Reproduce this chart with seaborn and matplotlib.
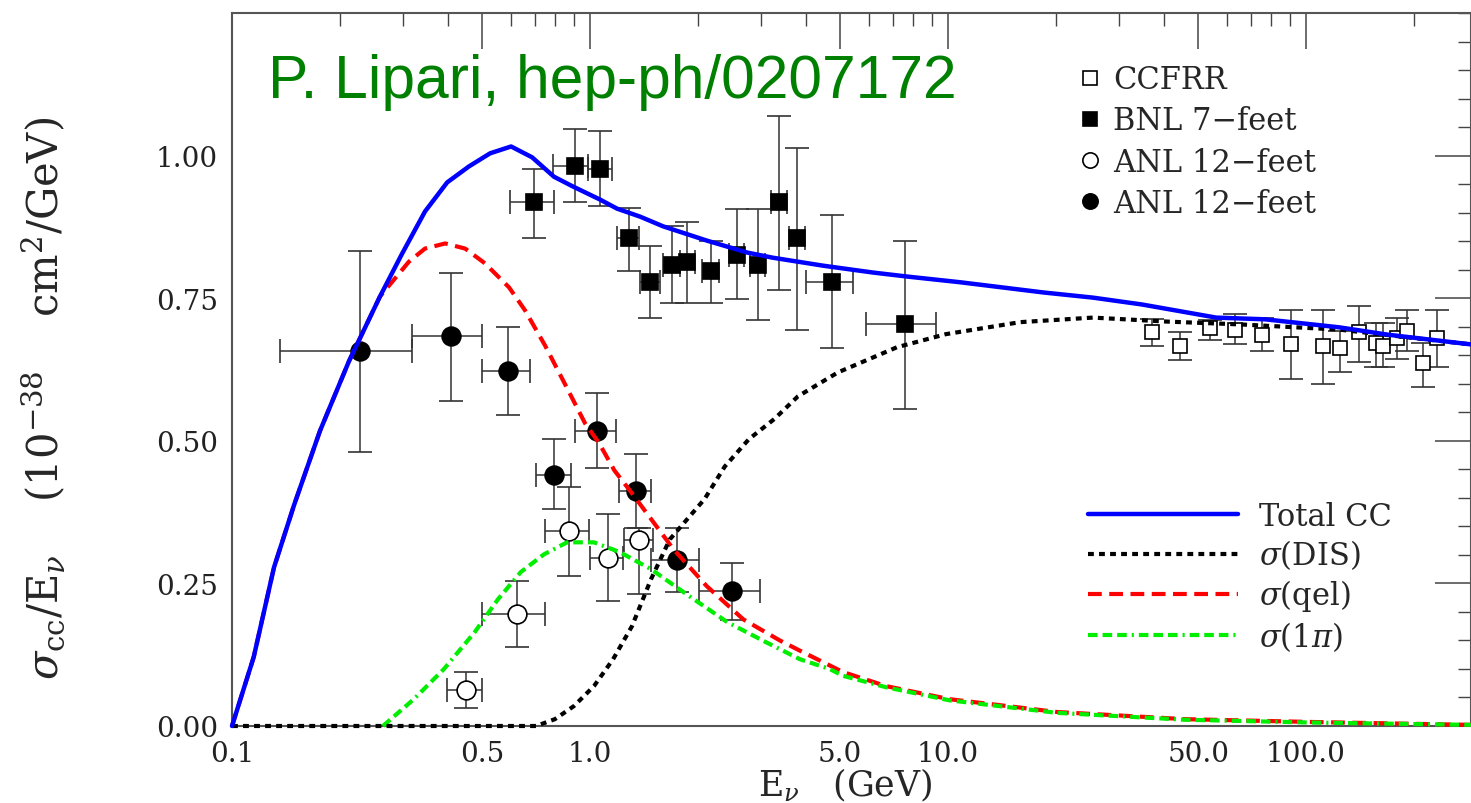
import numpy as np
import matplotlib
matplotlib.use("Agg")
import matplotlib.pyplot as plt
import matplotlib.ticker as mticker
from matplotlib.lines import Line2D
import seaborn as sns

# ---- theory curves, sigma/E in 1e-38 cm^2/GeV ----
tot_E = [0.1, 0.115, 0.131, 0.149, 0.176, 0.212, 0.259, 0.298, 0.346, 0.399, 0.459,
         0.526, 0.602, 0.689, 0.793, 0.895, 1.066, 1.19, 1.38, 1.60, 2.12, 2.75, 3.24,
         4.48, 6.17, 7.68, 10.8, 18.5, 25.4, 34.8, 56.1, 76.8, 123.6, 169.5, 289]
tot_v = [0.0, 0.121, 0.278, 0.387, 0.517, 0.639, 0.753, 0.827, 0.902, 0.953, 0.981,
         1.004, 1.016, 0.997, 0.963, 0.946, 0.923, 0.907, 0.893, 0.876, 0.851, 0.830, 0.821,
         0.807, 0.795, 0.788, 0.778, 0.760, 0.751, 0.739, 0.716, 0.713, 0.699, 0.686, 0.669]

dis_E = [0.1, 0.707, 0.798, 0.902, 1.026, 1.16, 1.31, 1.48, 1.67, 2.09, 2.38, 2.78,
         3.27, 3.81, 4.93, 7.20, 9.87, 15.9, 25.4, 40.9, 65.8, 123.6, 289]
dis_v = [0.0, 0.0, 0.012, 0.035, 0.070, 0.117, 0.175, 0.257, 0.327, 0.398, 0.455, 0.503,
         0.538, 0.578, 0.620, 0.664, 0.687, 0.708, 0.716, 0.709, 0.704, 0.695, 0.669]

qel_E = [0.1, 0.115, 0.131, 0.149, 0.176, 0.212, 0.259, 0.312, 0.346, 0.394, 0.448,
         0.509, 0.594, 0.658, 0.749, 0.852, 0.968, 1.06, 1.17, 1.31, 1.71, 2.12, 2.68,
         3.39, 3.86, 5.09, 6.71, 10.1, 20.2, 45.9, 104.6, 289]
qel_v = [0.0, 0.121, 0.278, 0.387, 0.517, 0.639, 0.753, 0.814, 0.837, 0.846, 0.837,
         0.811, 0.769, 0.729, 0.667, 0.599, 0.531, 0.496, 0.448, 0.408, 0.310, 0.245, 0.187,
         0.150, 0.132, 0.0946, 0.070, 0.047, 0.0245, 0.012, 0.007, 0.002]

pi_E = [0.264, 0.322, 0.391, 0.477, 0.553, 0.641, 0.744, 0.863, 1.026, 1.21, 1.48,
        1.89, 2.42, 3.10, 3.86, 4.67, 5.09, 6.71, 10.1, 20.2, 45.9, 104.6, 289]
pi_v = [0.0, 0.047, 0.100, 0.165, 0.222, 0.270, 0.301, 0.322, 0.322, 0.305, 0.275,
        0.228, 0.182, 0.147, 0.117, 0.100, 0.088, 0.068, 0.045, 0.023, 0.011, 0.006, 0.002]

# ---- data points ----
# CCFRR (open squares), vertical errors only
ccfrr_E = [37.1, 44.5, 53.9, 63.3, 75.4, 90.8, 111.6, 124.5, 140.6, 156.9, 164, 179.5, 191.4, 212, 232]
ccfrr_v = [0.690, 0.666, 0.697, 0.695, 0.685, 0.669, 0.666, 0.662, 0.690, 0.672, 0.666, 0.681, 0.692, 0.637, 0.681]
ccfrr_lo = [0.667, 0.641, 0.676, 0.669, 0.657, 0.608, 0.599, 0.620, 0.639, 0.630, 0.630, 0.644, 0.658, 0.594, 0.630]
ccfrr_hi = [0.713, 0.690, 0.711, 0.723, 0.716, 0.729, 0.729, 0.692, 0.737, 0.706, 0.706, 0.716, 0.729, 0.672, 0.729]

# BNL 7-feet (filled squares)
bnl_E = [0.698, 0.908, 1.066, 1.285, 1.47, 1.69, 1.87, 2.18, 2.57, 2.94, 3.37, 3.79, 4.74, 7.59]
bnl_v = [0.918, 0.981, 0.977, 0.855, 0.779, 0.809, 0.813, 0.797, 0.826, 0.809, 0.918, 0.855, 0.778, 0.704]
bnl_lo = [0.856, 0.918, 0.911, 0.797, 0.716, 0.742, 0.741, 0.742, 0.748, 0.711, 0.765, 0.694, 0.662, 0.555]
bnl_hi = [0.977, 1.046, 1.044, 0.909, 0.841, 0.876, 0.884, 0.851, 0.907, 0.907, 1.070, 1.014, 0.895, 0.851]
bnl_Elo = [0.598, 0.789, 0.987, 1.19, 1.38, 1.60, 1.78, 2.06, 2.44, 2.79, 3.20, 3.60, 4.01, 5.9]
bnl_Ehi = [0.793, 0.987, 1.15, 1.37, 1.57, 1.78, 1.96, 2.30, 2.70, 3.09, 3.54, 3.98, 5.43, 9.25]

# ANL 12-feet (open circles)
anl1_E = [0.451, 0.625, 0.874, 1.12, 1.37]
anl1_v = [0.063, 0.196, 0.341, 0.294, 0.326]
anl1_lo = [0.032, 0.138, 0.263, 0.219, 0.231]
anl1_hi = [0.095, 0.254, 0.419, 0.371, 0.348]
anl1_Elo = [0.399, 0.50, 0.749, 1.0, 1.245]
anl1_Ehi = [0.50, 0.749, 0.994, 1.24, 1.50]

# ANL 12-feet (filled circles)
anl2_E = [0.228, 0.409, 0.590, 0.793, 1.046, 1.344, 1.75, 2.49]
anl2_v = [0.657, 0.683, 0.622, 0.440, 0.517, 0.412, 0.291, 0.236]
anl2_lo = [0.480, 0.569, 0.545, 0.380, 0.452, 0.348, 0.235, 0.186]
anl2_hi = [0.832, 0.795, 0.699, 0.503, 0.583, 0.476, 0.347, 0.285]
anl2_Elo = [0.136, 0.319, 0.50, 0.707, 0.908, 1.205, 1.48, 2.02]
anl2_Ehi = [0.319, 0.50, 0.68, 0.885, 1.18, 1.48, 2.02, 2.99]

x_major = [0.1, 0.5, 1.0, 5.0, 10.0, 50.0, 100.0]
x_major_labels = ["0.1", "0.5", "1.0", "5.0", "10.0", "50.0", "100.0"]
x_minor = [0.2, 0.3, 0.4, 0.6, 0.7, 0.8, 0.9, 2, 3, 4, 6, 7, 8, 9,
           20, 30, 40, 60, 70, 80, 90, 200]
y_major = [0.0, 0.25, 0.5, 0.75, 1.0]

marker_labels = ["CCFRR", "BNL 7\u2212feet", "ANL 12\u2212feet", "ANL 12\u2212feet"]
line_labels = ["Total CC", r"$\sigma$(DIS)", r"$\sigma$(qel)", r"$\sigma$(1$\pi$)"]

sns.set_theme(style="white")
plt.rcParams['font.family'] = ['DejaVu Serif']
plt.rcParams['mathtext.fontset'] = 'dejavuserif'

fig = plt.figure(figsize=(14.71, 8.04), dpi=100)
ax = fig.add_axes([232 / 1471, 77 / 804, 1239 / 1471, 713 / 804])
ax.set_xscale('log')

# points with error bars (drawn under the curves)
def points(E, v, lo, hi, Elo, Ehi, marker, face, size):
    yerr = [np.subtract(v, lo), np.subtract(hi, v)]
    xerr = None
    if Elo is not None:
        xerr = [np.subtract(E, Elo), np.subtract(Ehi, E)]
    ax.errorbar(E, v, yerr=yerr, xerr=xerr, fmt=marker, ms=size, mfc=face,
                mec='black', mew=1.2, ecolor='#333333', elinewidth=1.1,
                capsize=8.5, capthick=1.1, zorder=3)

points(ccfrr_E, ccfrr_v, ccfrr_lo, ccfrr_hi, None, None, 's', 'white', 10.5)
points(bnl_E, bnl_v, bnl_lo, bnl_hi, bnl_Elo, bnl_Ehi, 's', 'black', 11.5)
points(anl1_E, anl1_v, anl1_lo, anl1_hi, anl1_Elo, anl1_Ehi, 'o', 'white', 13.5)
points(anl2_E, anl2_v, anl2_lo, anl2_hi, anl2_Elo, anl2_Ehi, 'o', 'black', 13.5)

# curves
dot_ls = (0, (1.4, 1.25))
dash_ls = (0, (3.3, 1.8))
dd_ls = (0, (2.3, 1.2, 2.3, 1.2, 2.3, 1.2, 0.5, 1.2))
sns.lineplot(x=qel_E, y=qel_v, ax=ax, color='#ff0000', linewidth=3.0,
             linestyle=dash_ls, estimator=None, zorder=4, clip_on=False)
sns.lineplot(x=pi_E, y=pi_v, ax=ax, color='#00ee00', linewidth=3.0,
             linestyle=dd_ls, estimator=None, zorder=4, clip_on=False)
sns.lineplot(x=dis_E, y=dis_v, ax=ax, color='black', linewidth=3.0,
             linestyle=dot_ls, estimator=None, zorder=5, clip_on=False)
sns.lineplot(x=tot_E, y=tot_v, ax=ax, color='#0000ff', linewidth=3.2,
             estimator=None, zorder=6, clip_on=False)

ax.set_xlim(0.1, 289)
ax.set_ylim(0, 1.25)

ax.xaxis.set_major_locator(mticker.FixedLocator(x_major))
ax.xaxis.set_major_formatter(mticker.FixedFormatter(x_major_labels))
ax.xaxis.set_minor_locator(mticker.FixedLocator(x_minor))
ax.xaxis.set_minor_formatter(mticker.NullFormatter())
ax.yaxis.set_major_locator(mticker.FixedLocator(y_major))
ax.yaxis.set_minor_locator(mticker.MultipleLocator(0.05))
ax.yaxis.set_major_formatter(mticker.FormatStrFormatter('%.2f'))

ax.tick_params(which='both', direction='in', top=True, right=True,
               color='#444444', labelcolor='#222222')
ax.tick_params(which='major', length=26, width=1.1, labelsize=20, pad=10)
ax.tick_params(which='minor', length=9.5, width=1.0)
for s in ax.spines.values():
    s.set_color('#555555')
    s.set_linewidth(1.5)

ax.set_xlabel(r"E$_\nu$   (GeV)", fontsize=25)
ax.xaxis.set_label_coords(0.495, -0.056)
ax.set_ylabel(r"$\sigma_{\rm cc}$/E$_\nu$    (10$^{-38}$    cm$^2$/GeV)", fontsize=30)
ax.yaxis.set_label_coords(-0.133, 0.461)

ax.text(0.029, 0.882, "P. Lipari, hep-ph/0207172", transform=ax.transAxes,
        fontsize=43.6, color='#008000', family='Liberation Sans', va='baseline')

# legends
mk = dict(ls='none', mec='black', mew=1.2)
marker_handles = [Line2D([], [], marker='s', ms=10, mfc='white', **mk),
                  Line2D([], [], marker='s', ms=10, mfc='black', **mk),
                  Line2D([], [], marker='o', ms=11, mfc='white', **mk),
                  Line2D([], [], marker='o', ms=11, mfc='black', **mk)]
leg1 = ax.legend(marker_handles, marker_labels, loc='upper left',
                 bbox_to_anchor=(0.683, 0.928), frameon=False, fontsize=22,
                 handlelength=0.8, handletextpad=0.35, labelspacing=0.33,
                 borderpad=0, borderaxespad=0)
ax.add_artist(leg1)

line_handles = [Line2D([], [], color='#0000ff', lw=3.2),
                Line2D([], [], color='black', lw=3.0, ls=dot_ls),
                Line2D([], [], color='#ff0000', lw=3.0, ls=dash_ls),
                Line2D([], [], color='#00ee00', lw=3.0, ls=dd_ls)]
ax.legend(line_handles, line_labels, loc='upper left',
          bbox_to_anchor=(0.691, 0.316), frameon=False, fontsize=22,
          handlelength=4.9, handletextpad=0.68, labelspacing=0.19,
          borderpad=0, borderaxespad=0)

fig.savefig("out.png", dpi=100)
